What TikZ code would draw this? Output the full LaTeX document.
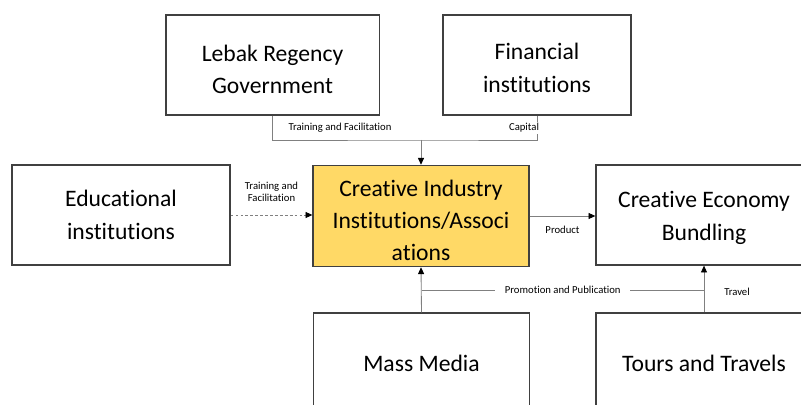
\documentclass[tikz,border=0pt]{standalone}
\usepackage{fontspec}
\setmainfont{Carlito}[Ligatures=NoCommon]
\usetikzlibrary{arrows.meta}

\definecolor{boxyellow}{HTML}{FFD966}

\begin{document}
\begin{tikzpicture}[x=0.025cm, y=-0.025cm,
    every node/.style={font=\fontsize{16.8}{23}\selectfont},
    box/.style={draw=black!75, line width=0.9pt, minimum width=5.4cm, minimum height=2.5cm, align=center, inner sep=0pt},
    link/.style={draw=black!50, line width=0.6pt},
    arr/.style={link, -{Triangle[length=1.7mm, width=1.5mm, black]}},
    tag/.style={font=\fontsize{7.6}{9}\selectfont, align=center, fill=white, inner sep=1pt}]

    \useasboundingbox (0,0) rectangle (801,405);
    \clip (0,0) rectangle (801,405);

    % boxes
    \node[box, minimum width=5.33cm, text height=41pt] (LRG) at (272.5,65) {Lebak Regency\\Government};
    \node[box, minimum width=4.7cm, text height=39pt] (FI) at (537,65) {Financial\\institutions};
    \node[box, minimum width=5.45cm] (EI) at (121,215) {Educational\\institutions};
    \node[box, fill=boxyellow, minimum height=2.53cm, text height=64pt] (CI) at (421,216) {Creative Industry\\Institutions/Associ\\ations};
    \node[box, text height=38.5pt] (CEB) at (704,215) {Creative Economy\\Bundling};
    \node[box] (MM) at (421.5,363) {Mass Media};
    \node[box] (TT) at (704,363) {Tours and Travels};

    % support from above
    \coordinate (hub) at (CI.north |- 0,140);
    \draw[link] (LRG.south) |- (hub) -| (FI.south);
    \draw[arr] (hub) -- (CI.north);
    \node[tag] at (340,128) {Training and Facilitation};
    \node[tag] at (524,128) {Capital};

    \path
        (EI.east) edge[arr, dashed, dash pattern=on 2pt off 1.5pt] node[tag, above=8pt] {Training and\\Facilitation} (EI.east -| CI.west)
        (CI.east) edge[arr] node[tag, below=6pt] {Product} (CI.east -| CEB.west)
        (MM.north) edge[arr] (CI.south)
        (TT.north) edge[arr] (CEB.south);

    \draw[link] (MM.north |- 0,290) -- node[tag, inner xsep=7pt] {Promotion and Publication} (TT.north |- 0,290);
    \node[tag] at (737,292) {Travel};
\end{tikzpicture}
\end{document}
